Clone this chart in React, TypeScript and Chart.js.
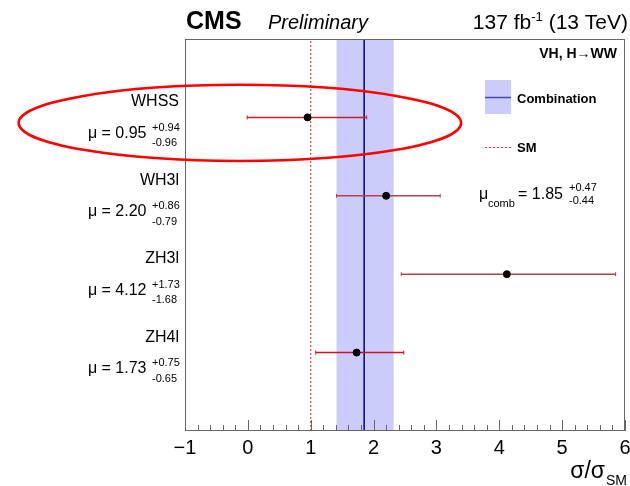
import React, { useEffect, useRef } from 'react';
import { Chart, registerables } from 'chart.js';

Chart.register(...registerables);

// ---- data ----
const channels = ['WHSS', 'WH3l', 'ZH3l', 'ZH4l'];
const muValues = [0.95, 2.2, 4.12, 1.73];
const errUp = [0.94, 0.86, 1.73, 0.75];
const errDown = [0.96, 0.79, 1.68, 0.65];
const rowY = [4, 3, 2, 1];
const barColors = ['#cc1f2c', '#b4414f', '#b4414f', '#d0141f'];
const combValue = [1.85];
const combUp = [0.47];
const combDown = [0.44];
const smValue = [1];
const xTicks = [-1, 0, 1, 2, 3, 4, 5, 6];
const xTickLabels = ['\u22121', '0', '1', '2', '3', '4', '5', '6'];
const xRange = [-1, 6];
const yRange = [0, 5];
// highlight ellipse in data units: [centerX, centerY, radiusX, radiusY]
const ellipse = [-0.127, 3.93, 3.52, 0.485];

const FONT = '"Liberation Sans", Arial, Helvetica, sans-serif';

const drawPlugin = {
  id: 'cmsDecor',
  beforeDatasetsDraw(chart: any) {
    const { ctx, chartArea: a } = chart;
    const xs = chart.scales.x;
    const lo = xs.getPixelForValue(combValue[0] - combDown[0]);
    const hi = xs.getPixelForValue(combValue[0] + combUp[0]);
    ctx.save();
    ctx.fillStyle = '#ccccfa';
    ctx.fillRect(lo, a.top, hi - lo, a.bottom - a.top);
    ctx.restore();
  },
  afterDraw(chart: any) {
    const { ctx, chartArea: a } = chart;
    const xs = chart.scales.x;
    const ys = chart.scales.y;
    ctx.save();
    // frame
    ctx.strokeStyle = '#666';
    ctx.lineWidth = 1;
    ctx.strokeRect(a.left + 0.5, a.top + 0.5, a.right - a.left - 1, a.bottom - a.top - 1);
    // ticks
    ctx.beginPath();
    for (let i = 0; i <= 35; i++) {
      const v = xRange[0] + i * 0.2;
      const px = Math.round(xs.getPixelForValue(v)) + 0.5;
      const len = i % 5 === 0 ? 11 : 6;
      ctx.moveTo(px, a.bottom);
      ctx.lineTo(px, a.bottom - len);
    }
    ctx.stroke();
    // tick labels
    ctx.fillStyle = '#000';
    ctx.font = `20px ${FONT}`;
    ctx.textAlign = 'center';
    ctx.textBaseline = 'alphabetic';
    xTicks.forEach((v, i) => {
      ctx.fillText(xTickLabels[i], xs.getPixelForValue(v), a.bottom + 23);
    });
    // axis title
    ctx.font = `14px ${FONT}`;
    const smW = ctx.measureText('SM').width;
    ctx.textAlign = 'left';
    ctx.fillText('SM', a.right + 2 - smW, 485);
    ctx.font = `23px ${FONT}`;
    ctx.textAlign = 'right';
    ctx.fillText('\u03c3/\u03c3', a.right + 1 - smW, 478);

    // header
    ctx.textAlign = 'left';
    ctx.font = `bold 25px ${FONT}`;
    ctx.fillText('CMS', a.left + 1, 28.5);
    ctx.font = `italic 20px ${FONT}`;
    ctx.fillText('Preliminary', 268, 28.5);
    ctx.font = `21px ${FONT}`;
    const p3 = ' (13 TeV)';
    const w3 = ctx.measureText(p3).width;
    ctx.font = `13px ${FONT}`;
    const w2 = ctx.measureText('-1').width;
    ctx.font = `21px ${FONT}`;
    const right = 628;
    ctx.textAlign = 'right';
    ctx.fillText(p3, right, 29);
    ctx.fillText('137 fb', right - w3 - w2, 29);
    ctx.font = `13px ${FONT}`;
    ctx.textAlign = 'left';
    ctx.fillText('-1', right - w3 - w2, 21);

    // VH label
    ctx.font = `bold 14px ${FONT}`;
    ctx.textAlign = 'right';
    ctx.fillText('VH, H\u2192WW', 617, 58);

    // legend
    ctx.fillStyle = '#ccccfa';
    ctx.fillRect(485, 80, 26, 34);
    ctx.strokeStyle = '#4848a8';
    ctx.lineWidth = 1.5;
    ctx.beginPath();
    ctx.moveTo(485, 97.5);
    ctx.lineTo(511, 97.5);
    ctx.stroke();
    ctx.strokeStyle = '#e03030';
    ctx.lineWidth = 1;
    ctx.setLineDash([2, 2]);
    ctx.beginPath();
    ctx.moveTo(485, 147.5);
    ctx.lineTo(511, 147.5);
    ctx.stroke();
    ctx.setLineDash([]);
    ctx.fillStyle = '#000';
    ctx.textAlign = 'left';
    ctx.font = `bold 13px ${FONT}`;
    ctx.fillText('Combination', 517, 103);
    ctx.fillText('SM', 517, 152);

    // mu comb
    ctx.font = `16px ${FONT}`;
    ctx.fillText('\u03bc', 479, 199);
    ctx.font = `11px ${FONT}`;
    ctx.fillText('comb', 488, 206.5);
    ctx.font = `16px ${FONT}`;
    ctx.fillText(`= ${combValue[0].toFixed(2)}`, 518, 199);
    ctx.font = `11px ${FONT}`;
    ctx.fillText(`+${combUp[0].toFixed(2)}`, 569, 191);
    ctx.fillText(`-${combDown[0].toFixed(2)}`, 569, 204);

    // left labels
    channels.forEach((name, i) => {
      const py = ys.getPixelForValue(rowY[i]);
      ctx.textAlign = 'right';
      ctx.font = `16px ${FONT}`;
      ctx.fillText(name, a.left - 6, py - 11);
      ctx.fillText(`\u03bc = ${muValues[i].toFixed(2)}`, a.left - 38.5, py + 20.5);
      ctx.textAlign = 'left';
      ctx.font = `11px ${FONT}`;
      ctx.fillText(`+${errUp[i].toFixed(2)}`, a.left - 33, py + 13.6);
      ctx.fillText(`-${errDown[i].toFixed(2)}`, a.left - 33, py + 29);
    });

    // highlight ellipse
    const cx = xs.getPixelForValue(ellipse[0]);
    const cy = ys.getPixelForValue(ellipse[1]);
    const rx = Math.abs(xs.getPixelForValue(ellipse[0] + ellipse[2]) - cx);
    const ry = Math.abs(ys.getPixelForValue(ellipse[1] + ellipse[3]) - cy);
    ctx.strokeStyle = '#ff0000';
    ctx.lineWidth = 2.5;
    ctx.beginPath();
    ctx.ellipse(cx, cy, rx, ry, 0, 0, Math.PI * 2);
    ctx.stroke();
    ctx.restore();
  },
};

function buildDatasets() {
  const ds: any[] = [];
  ds.push({
    type: 'line',
    label: 'Combination',
    data: [
      { x: combValue[0], y: yRange[0] },
      { x: combValue[0], y: yRange[1] },
    ],
    borderColor: '#000080',
    borderWidth: 1.5,
    pointRadius: 0,
    order: 5,
  });
  ds.push({
    type: 'line',
    label: 'SM',
    data: [
      { x: smValue[0], y: yRange[0] },
      { x: smValue[0], y: yRange[1] },
    ],
    borderColor: '#d02020',
    borderWidth: 1,
    borderDash: [2, 2],
    pointRadius: 0,
    order: 5,
  });
  channels.forEach((name, i) => {
    ds.push({
      type: 'line',
      label: name + ' err',
      data: [
        { x: muValues[i] - errDown[i], y: rowY[i] },
        { x: muValues[i] + errUp[i], y: rowY[i] },
      ],
      borderColor: barColors[i],
      borderWidth: 1.5,
      pointStyle: 'line',
      rotation: 90,
      pointRadius: 2,
      pointBorderColor: barColors[i],
      pointBorderWidth: 1,
      order: 3,
    });
  });
  ds.push({
    type: 'scatter',
    label: 'mu',
    data: channels.map((_, i) => ({ x: muValues[i], y: rowY[i] })),
    backgroundColor: '#000',
    borderColor: '#000',
    pointRadius: 3.5,
    order: 1,
  });
  return ds;
}

export default function App() {
  const ref = useRef<HTMLCanvasElement>(null);
  useEffect(() => {
    if (!ref.current) return;
    const chart = new Chart(ref.current, {
      type: 'scatter',
      data: { datasets: buildDatasets() },
      options: {
        responsive: false,
        animation: false,
        devicePixelRatio: 1,
        layout: { padding: { left: 185, right: 4, top: 39, bottom: 55 } },
        plugins: { legend: { display: false }, tooltip: { enabled: false } },
        scales: {
          x: { type: 'linear', min: xRange[0], max: xRange[1], display: false },
          y: { type: 'linear', min: yRange[0], max: yRange[1], display: false },
        },
      },
      plugins: [drawPlugin],
    } as any);
    return () => chart.destroy();
  }, []);
  return (
    <div style={{ position: 'absolute', left: 0, top: 0, width: 630, height: 486, background: '#fff' }}>
      <canvas ref={ref} width={630} height={486} style={{ display: 'block', width: 630, height: 486 }} />
    </div>
  );
}
